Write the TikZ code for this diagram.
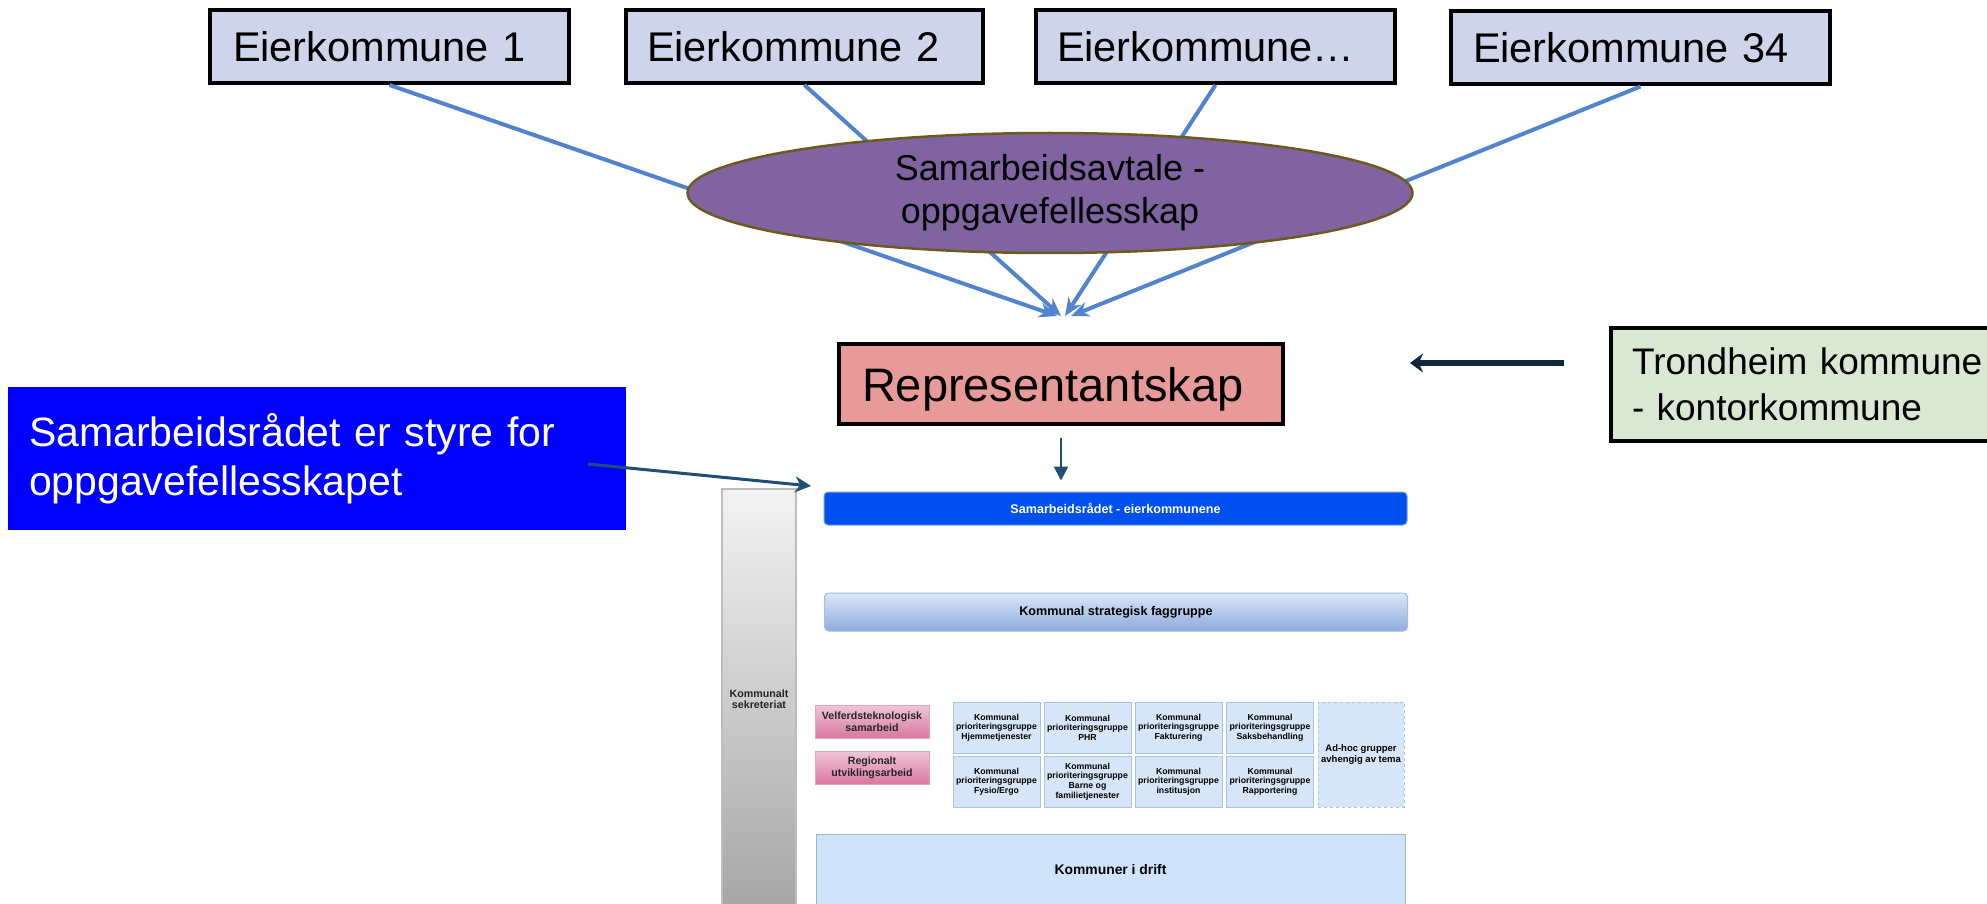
\documentclass[tikz,border=0pt]{standalone}
\usepackage{fontspec}
\setmainfont{Liberation Sans}
\usetikzlibrary{shapes.geometric,arrows.meta}
\newcommand\fsz[2]{\fontsize{#1pt}{#2pt}\selectfont}
\definecolor{ekfill}{HTML}{CED4E9}
\definecolor{linkblue}{HTML}{5283CF}
\definecolor{ellfill}{HTML}{8064A2}
\definecolor{elldraw}{HTML}{6E5A1E}
\definecolor{repfill}{HTML}{E89A99}
\definecolor{trfill}{HTML}{D9E8D3}
\definecolor{navyline}{HTML}{1F4E79}
\definecolor{darkarrow}{HTML}{10283A}
\definecolor{calloutblue}{HTML}{0000FF}
\definecolor{srblue}{HTML}{0050EF}
\definecolor{srborder}{HTML}{7E9EE6}
\definecolor{greytop}{HTML}{F3F3F3}
\definecolor{greybot}{HTML}{A6A6A6}
\definecolor{greyedge}{HTML}{BDBDBD}
\definecolor{fagtop}{HTML}{DDE8F9}
\definecolor{fagbot}{HTML}{8DAADD}
\definecolor{fagedge}{HTML}{A3BCE3}
\definecolor{pinktop}{HTML}{F0C6D7}
\definecolor{pinkbot}{HTML}{D8789F}
\definecolor{pinkedge}{HTML}{E3A3BC}
\definecolor{gridfill}{HTML}{D6E5F8}
\definecolor{griddraw}{HTML}{A9C3E8}
\definecolor{driftfill}{HTML}{CFE3FA}
\definecolor{driftedge}{HTML}{A8B4C4}
\begin{document}
\begin{tikzpicture}[x=1pt,y=-1pt,
  ekbox/.style={draw=black, line width=4pt, fill=ekfill, inner ysep=0pt,
    minimum height=73pt, align=left, font=\fsz{41.5}{50}},
  link/.style={draw=linkblue, line width=4pt, -{Stealth[length=18pt,width=15pt]}},
  navyarrow/.style={draw=navyline, line width=2.5pt, -{Triangle[length=14pt,width=14pt]}},
  gridbox/.style={draw=griddraw, line width=1pt, fill=gridfill, minimum width=87pt,
    minimum height=51pt, inner sep=0pt, align=center, font=\bfseries\fsz{8.7}{9.6}},
  pinkbox/.style={draw=pinkedge, line width=1pt, top color=pinktop, bottom color=pinkbot,
    minimum width=114pt, minimum height=33pt, inner sep=0pt, align=center,
    font=\bfseries\fsz{10.6}{12}, text=black!85},
  barbox/.style={rounded corners=4pt, minimum width=583pt, inner sep=0pt,
    font=\bfseries\fsz{12.6}{15}}
]
\useasboundingbox (0,0) rectangle (1987,904);
\clip (0,0) rectangle (1987,904);
\fill[white] (0,0) rectangle (1987,904);

% owner municipalities
\node[ekbox, inner xsep=23pt, text width=313pt] (e1) at (389.5,46.5) {Eierkommune 1};
\node[ekbox, inner xsep=21pt, text width=315pt] (e2) at (804.5,46.5) {Eierkommune 2};
\node[ekbox, inner xsep=21pt, text width=317pt] (e3) at (1215.5,46.5) {Eierkommune…};
\node[ekbox, inner xsep=22pt, text width=335pt] (e4) at (1640.5,48) {Eierkommune 34};

\coordinate (t1) at (1057,316);
\coordinate (t2) at (1061,316);
\coordinate (t3) at (1065,316);
\coordinate (t4) at (1071,316);
\draw[link] (e1.south) -- (t1);
\draw[link] (e2.south) -- (t2);
\draw[link] (e3.south) -- (t3);
\draw[link] (e4.south) -- (t4);

\node[ellipse, draw=elldraw, line width=2.5pt, fill=ellfill, minimum width=725pt,
  minimum height=120pt, inner sep=0pt, align=center, font=\fsz{36}{43}, text=black]
  (avt) at (1050,193) {Samarbeidsavtale -\\oppgavefellesskap};

% Representantskap
\node[draw=black, line width=4pt, fill=repfill, minimum height=80pt, inner xsep=23pt,
  inner ysep=0pt, text width=398pt, align=left, font=\fsz{47}{56}, text depth=0pt]
  (rep) at (1061,384) {Representantskap};

% Trondheim
\node[draw=black, line width=3.5pt, fill=trfill, minimum height=113pt, inner xsep=21pt,
  inner ysep=0pt, text width=370pt, align=left, font=\fsz{37}{46}]
  (trond) at (1817,384.5) {Trondheim kommune\\- kontorkommune};
\coordinate (tA) at (1564,363);
\coordinate (tB) at (1410,363);
\draw[draw=darkarrow, line width=6pt, -{Stealth[length=13pt,width=19pt]}] (tA) -- (tB);

% callout
\node[fill=calloutblue, text=white, minimum height=143pt, inner xsep=21pt, inner ysep=0pt,
  text width=576pt, align=left, font=\fsz{41}{49}]
  (call) at (317,458.5) {Samarbeidsrådet er styre for\\oppgavefellesskapet};

% lower organisation chart
\node[draw=greyedge, line width=1.5pt, top color=greytop, bottom color=greybot,
  minimum width=74pt, minimum height=420pt, inner sep=0pt, align=center,
  font=\bfseries\fsz{10.7}{11.5}, text=black!85] (sek) at (759,699) {Kommunalt\\sekreteriat};

\node[barbox, draw=srborder, line width=1pt, fill=srblue, minimum height=33pt, text=white]
  (sr) at (1115.5,508.5) {Samarbeidsrådet - eierkommunene};
\node[barbox, draw=fagedge, line width=1pt, top color=fagtop, bottom color=fagbot,
  minimum height=38pt, text=black] (fag) at (1116,612) {Kommunal strategisk faggruppe};

\coordinate (cS) at (588,464);
\coordinate (cE) at (811,486);
\draw[draw=navyline, line width=3pt, -{Stealth[length=16pt,width=16pt]}] (cS) -- (cE);
\draw[navyarrow, shorten <=12pt, shorten >=11pt] (rep.south) -- (rep.south |- sr.north);

\node[pinkbox] (velf) at (872,721.5) {Velferdsteknologisk\\samarbeid};
\node[pinkbox] (reg) at (872,767.5) {Regionalt\\utviklingsarbeid};

\node[gridbox] (g1) at (996.5,727.5) {Kommunal\\prioriteringsgruppe\\Hjemmetjenester};
\node[gridbox] (g2) at (1087.5,727.5) {Kommunal\\prioriteringsgruppe\\PHR};
\node[gridbox] (g3) at (1178.5,727.5) {Kommunal\\prioriteringsgruppe\\Fakturering};
\node[gridbox] (g4) at (1270,727.5) {Kommunal\\prioriteringsgruppe\\Saksbehandling};
\node[gridbox] (g5) at (996.5,781.5) {Kommunal\\prioriteringsgruppe\\Fysio/Ergo};
\node[gridbox] (g6) at (1087.5,781.5) {Kommunal\\prioriteringsgruppe\\Barne og\\familietjenester};
\node[gridbox] (g7) at (1178.5,781.5) {Kommunal\\prioriteringsgruppe\\institusjon};
\node[gridbox] (g8) at (1270,781.5) {Kommunal\\prioriteringsgruppe\\Rapportering};
\node[gridbox, dashed, minimum width=86pt, minimum height=105pt, font=\bfseries\fsz{9.5}{10.5}]
  (adhoc) at (1361,754.5) {Ad-hoc grupper\\avhengig av tema};

\node[draw=driftedge, line width=1pt, fill=driftfill, minimum width=589pt, minimum height=72pt,
  inner sep=0pt, font=\bfseries\fsz{13.9}{16}] (drift) at (1110.5,870) {Kommuner i drift};
\end{tikzpicture}
\end{document}
